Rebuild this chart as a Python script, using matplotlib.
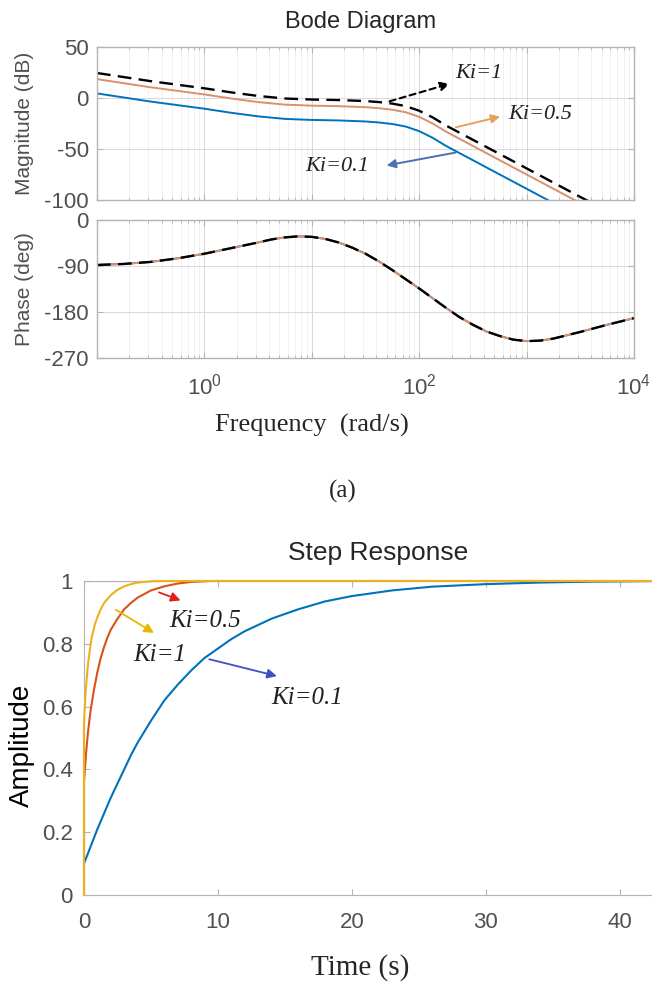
import numpy as np
import matplotlib
matplotlib.use("Agg")
import matplotlib.pyplot as plt
from matplotlib.ticker import LogLocator, NullFormatter, FixedLocator

plt.rcParams['font.family'] = ['Liberation Sans', 'DejaVu Sans']
plt.rcParams['mathtext.fontset'] = 'custom'
plt.rcParams['mathtext.rm'] = 'Liberation Sans'

# ---- Bode data, frequency as log10(rad/s) ----
lw_mag = [-1, -0.75, -0.5, -0.25, 0, 0.25, 0.5, 0.75, 1.0, 1.25, 1.5, 1.625,
          1.75, 1.875, 2.0, 2.125, 2.25, 2.375, 2.5, 2.75, 3.0, 3.25, 3.5,
          3.75, 4.0]
mag_ki1 = [24.5, 20.5, 16.5, 13, 9.5, 5.5, 2, -0.5, -1.5, -2, -3, -4,
           -5.5, -8, -12.5, -19, -27, -34, -41, -55, -69, -83, -97,
           -111, -125]
mag_ki05 = [18.5, 14.5, 10.5, 7, 3.5, -0.5, -4, -6.5, -7.5, -8, -9, -10,
            -11.5, -14, -18.5, -25, -33, -40, -47, -61, -75, -89, -103,
            -117, -131]
mag_ki01 = [4.5, 0.5, -3.5, -7, -10.5, -14.5, -18, -20.5, -21.5, -22, -23, -24,
            -25.5, -28, -32.5, -39, -47, -54, -61, -75, -89, -103, -117,
            -131, -145]

lw_ph = [-1, -0.75, -0.5, -0.25, 0, 0.25, 0.5, 0.625, 0.75, 0.875, 1.0, 1.125,
         1.25, 1.375, 1.5, 1.625, 1.75, 1.875, 2.0, 2.125, 2.25, 2.375, 2.5,
         2.625, 2.75, 2.875, 3.0, 3.125, 3.25, 3.5, 3.75, 4.0]
phase = [-88, -86, -82, -75, -66, -55, -44, -38, -34, -32, -33, -37,
         -44, -54, -66, -81, -98, -116, -134, -153, -172, -190, -205,
         -218, -227, -234, -237, -236, -232, -219, -205, -192]

# ---- Step response data ----
t_01 = [0, 0.5, 1, 1.5, 2, 2.5, 3, 3.5, 4, 5, 6, 7, 8, 9, 10, 11, 12, 14,
        16, 18, 20, 23, 26, 30, 34, 38, 43]
y_01 = [0.10, 0.155, 0.21, 0.26, 0.31, 0.355, 0.40, 0.445, 0.485, 0.555,
        0.62, 0.67, 0.715, 0.755, 0.785, 0.815, 0.84, 0.88, 0.91, 0.935,
        0.952, 0.97, 0.982, 0.99, 0.995, 0.998, 1.0]
t_05 = [0, 0, 0.15, 0.3, 0.5, 0.75, 1, 1.25, 1.5, 1.75, 2, 2.5, 3, 3.5, 4,
        5, 6, 7, 8, 9.5, 43]
y_05 = [0, 0.36, 0.45, 0.52, 0.59, 0.655, 0.71, 0.755, 0.79, 0.82, 0.845,
        0.88, 0.91, 0.93, 0.947, 0.97, 0.983, 0.992, 0.997, 1.0, 1.0]
t_1 = [0, 0, 0.1, 0.2, 0.3, 0.45, 0.6, 0.8, 1.0, 1.25, 1.5, 2, 2.5, 3, 3.5,
       4, 5, 6, 43]
y_1 = [0, 0.55, 0.63, 0.69, 0.735, 0.785, 0.825, 0.86, 0.885, 0.91, 0.93,
       0.955, 0.972, 0.983, 0.99, 0.995, 0.999, 1.0, 1.0]

w_mag = 10.0 ** np.array(lw_mag)
w_ph = 10.0 ** np.array(lw_ph)

c_blue = '#0072BD'
c_orng = '#D9916A'
c_red = '#D95319'
c_yel = '#EDB120'
gray = '#505050'
edge = '#b4b4b4'

W, H = 652, 982
fig = plt.figure(figsize=(W / 100, H / 100), dpi=100)


def box(l, t, r, b):
    return [l / W, 1 - b / H, (r - l) / W, (b - t) / H]


def bode_style(ax):
    ax.set_xscale('log')
    ax.set_xlim(0.1, 1e4)
    ax.xaxis.set_major_locator(FixedLocator([0.1, 1, 10, 100, 1000, 1e4]))
    ax.xaxis.set_minor_locator(LogLocator(subs=np.arange(2, 10), numticks=20))
    ax.xaxis.set_minor_formatter(NullFormatter())
    ax.grid(True, which='major', color='#d8d8d8', lw=0.7)
    ax.grid(True, which='minor', axis='x', color='#eeeeee', lw=0.6)
    ax.tick_params(which='both', direction='in', top=True, right=True,
                   colors=edge, labelcolor=gray, labelsize=16)
    ax.tick_params(which='major', length=4)
    ax.tick_params(which='minor', length=2)
    ax.tick_params(axis='y', pad=6)
    for s in ax.spines.values():
        s.set_color(edge)
        s.set_linewidth(1.0)


# magnitude
axm = fig.add_axes(box(97, 47, 634, 200))
bode_style(axm)
axm.plot(w_mag, mag_ki01, color=c_blue, lw=1.4)
axm.plot(w_mag, mag_ki05, color=c_orng, lw=1.4)
axm.plot(w_mag, mag_ki1, color='black', lw=1.7, dashes=(5.8, 3.1))
axm.set_ylim(-100, 50)
axm.set_yticks([50, 0, -50, -100])
axm.set_yticklabels(['50', '0', '-50', '-100'])
axm.tick_params(axis='x', labelbottom=False)

lab = dict(family='Liberation Serif', style='italic', fontsize=16, color='#222222')
axm.annotate('', xy=(203, 14.7), xytext=(50, -4),
             arrowprops=dict(arrowstyle='-|>', color='black', lw=1.5,
                             linestyle=(0, (3, 2)), mutation_scale=13))
axm.text(216, 24.5, 'Ki=1', ha='left', va='center', **lab)
axm.annotate('', xy=(600, -17.6), xytext=(207, -29.4),
             arrowprops=dict(arrowstyle='-|>', color='#E8A060', lw=1.4,
                             mutation_scale=13))
axm.text(676, -16.6, 'Ki=0.5', ha='left', va='center', **lab)
axm.annotate('', xy=(47, -66.6), xytext=(231, -53),
             arrowprops=dict(arrowstyle='-|>', color='#4a6fb5', lw=1.4,
                             mutation_scale=13))
axm.text(8.7, -67.6, 'Ki=0.1', ha='left', va='center', **lab)

# phase
axp = fig.add_axes(box(97, 220, 634, 358))
bode_style(axp)
axp.plot(w_ph, phase, color=c_blue, lw=1.4)
axp.plot(w_ph, phase, color=c_orng, lw=1.4)
axp.plot(w_ph, phase, color='black', lw=1.7, dashes=(5.8, 3.1))
axp.set_ylim(-270, 0)
axp.set_yticks([0, -90, -180, -270])
axp.set_yticklabels(['0', '-90', '-180', '-270'])
axp.set_xticklabels(['', r'$\mathregular{10^{0}}$', '', r'$\mathregular{10^{2}}$',
                     '', r'$\mathregular{10^{4}}$'])
axp.tick_params(axis='x', pad=11)

fig.text(361 / W, 1 - 22 / H, 'Bode Diagram', ha='center', va='center',
         fontsize=17, color='#262626')
fig.text(25 / W, 1 - 123 / H, 'Magnitude (dB)', rotation=90, ha='center',
         va='center', fontsize=15, color=gray)
fig.text(25 / W, 1 - 289 / H, 'Phase (deg)', rotation=90, ha='center',
         va='center', fontsize=15, color=gray)
fig.text(312 / W, 1 - 425 / H, 'Frequency  (rad/s)', ha='center', va='center',
         family='Liberation Serif', fontsize=19, color='#262626')
fig.text(343 / W, 1 - 491 / H, '(a)', ha='center', va='center',
         family='Liberation Serif', fontsize=18, color='#262626')

# step response
axs = fig.add_axes(box(84, 581, 652, 895))
axs.plot([0, 6], [1, 1], color='#8a8a8a', lw=1.0, ls=':', zorder=1)
axs.plot(t_01, y_01, color=c_blue, lw=1.5, clip_on=False, zorder=3)
axs.plot(t_05, y_05, color=c_red, lw=1.5, clip_on=False, zorder=3)
axs.plot(t_1, y_1, color=c_yel, lw=1.5, clip_on=False, zorder=3)
axs.set_xlim(0, 42.4)
axs.set_ylim(0, 1)
axs.set_xticks([0, 10, 20, 30, 40])
axs.set_yticks([0, 0.2, 0.4, 0.6, 0.8, 1])
axs.set_yticklabels(['0', '0.2', '0.4', '0.6', '0.8', '1'])
axs.spines['right'].set_visible(False)
for s in ['left', 'bottom', 'top']:
    axs.spines[s].set_color(edge)
axs.tick_params(direction='in', top=True, colors=edge, labelcolor=gray,
                labelsize=16, length=4)
axs.tick_params(axis='x', pad=12)
axs.tick_params(axis='y', pad=8)

slab = dict(family='Liberation Serif', style='italic', fontsize=18, color='#222222')
axs.annotate('', xy=(7.4, 0.935), xytext=(5.4, 0.967),
             arrowprops=dict(arrowstyle='-|>', color='#E0201B', lw=1.3,
                             mutation_scale=14))
axs.text(6.4, 0.872, 'Ki=0.5', ha='left', va='center', **slab)
axs.annotate('', xy=(5.4, 0.83), xytext=(2.2, 0.913),
             arrowprops=dict(arrowstyle='-|>', color='#E6B800', lw=1.3,
                             mutation_scale=14))
axs.text(3.66, 0.763, 'Ki=1', ha='left', va='center', **slab)
axs.annotate('', xy=(14.6, 0.695), xytext=(9.15, 0.753),
             arrowprops=dict(arrowstyle='-|>', color='#4050C0', lw=1.3,
                             mutation_scale=14))
axs.text(13.95, 0.628, 'Ki=0.1', ha='left', va='center', **slab)

fig.text(378 / W, 1 - 553 / H, 'Step Response', ha='center', va='center',
         fontsize=19, color='#262626')
fig.text(22 / W, 1 - 745 / H, 'Amplitude', rotation=90, ha='center',
         va='center', fontsize=20, color='black')
fig.text(360 / W, 1 - 968 / H, 'Time (s)', ha='center', va='center',
         family='Liberation Serif', fontsize=21, color='#262626')

fig.savefig('out.png', dpi=100)
